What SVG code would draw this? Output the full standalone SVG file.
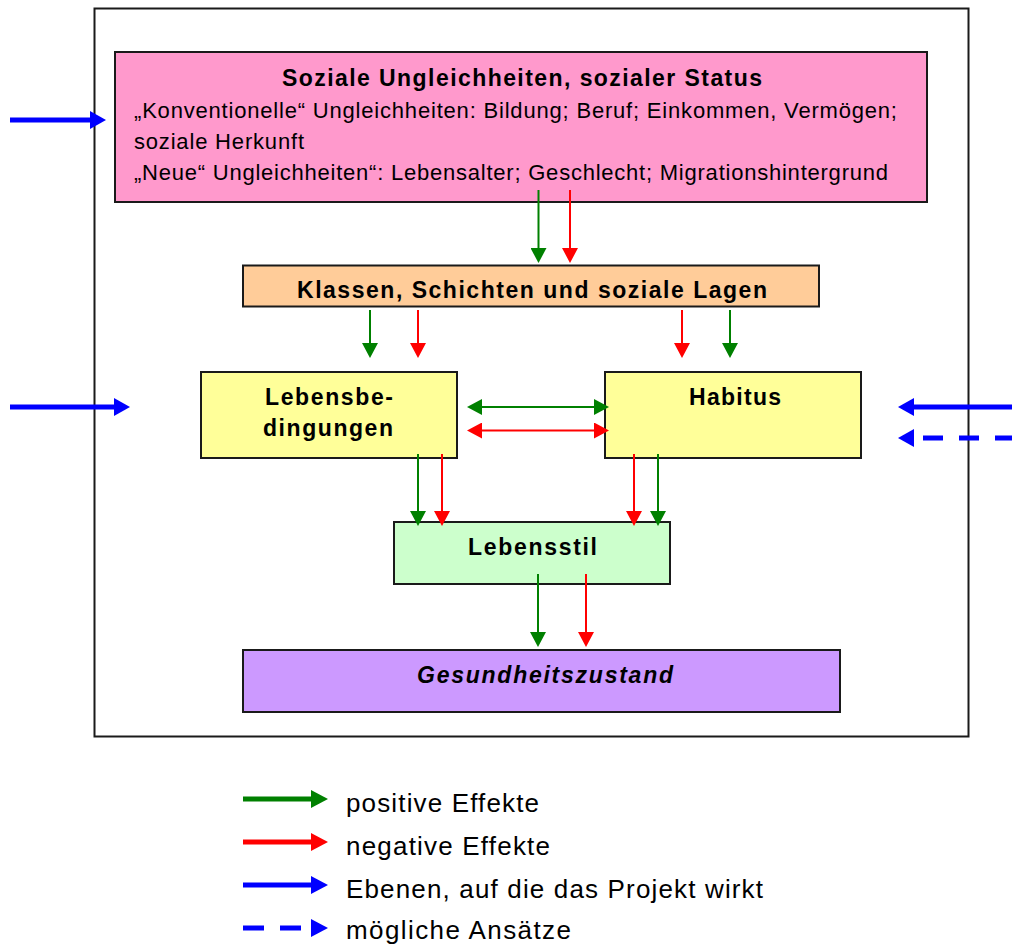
<svg xmlns="http://www.w3.org/2000/svg" width="1012" height="944" viewBox="0 0 1012 944">
<style>
.box{stroke:#1a1a1a;stroke-width:2}
.t{font-family:"Liberation Sans",Arial,sans-serif;fill:#000}
.b{font-weight:bold;font-size:23px}
.n{font-size:22px}
.lg{font-size:26px}
.g{stroke:#008000;stroke-width:2;fill:none}
.r{stroke:#FF0000;stroke-width:2;fill:none}
.bl{stroke:#0000FF;stroke-width:5;fill:none}
.lgg{stroke:#008000;stroke-width:5;fill:none}
.lgr{stroke:#FF0000;stroke-width:5;fill:none}
</style>
<defs>
<marker id="hg" markerUnits="userSpaceOnUse" markerWidth="15" markerHeight="16" refX="0" refY="8" orient="auto-start-reverse"><path d="M0,0 L15,8 L0,16 z" fill="#008000"/></marker>
<marker id="hr" markerUnits="userSpaceOnUse" markerWidth="15" markerHeight="16" refX="0" refY="8" orient="auto-start-reverse"><path d="M0,0 L15,8 L0,16 z" fill="#FF0000"/></marker>
<marker id="hb" markerUnits="userSpaceOnUse" markerWidth="16" markerHeight="18" refX="0" refY="9" orient="auto"><path d="M0,0 L16,9 L0,18 z" fill="#0000FF"/></marker>
<marker id="lgG" markerUnits="userSpaceOnUse" markerWidth="17" markerHeight="18" refX="0" refY="9" orient="auto"><path d="M0,0 L17,9 L0,18 z" fill="#008000"/></marker>
<marker id="lgR" markerUnits="userSpaceOnUse" markerWidth="17" markerHeight="18" refX="0" refY="9" orient="auto"><path d="M0,0 L17,9 L0,18 z" fill="#FF0000"/></marker>
<marker id="lgB" markerUnits="userSpaceOnUse" markerWidth="17" markerHeight="18" refX="0" refY="9" orient="auto"><path d="M0,0 L17,9 L0,18 z" fill="#0000FF"/></marker>
</defs>
<rect width="1012" height="944" fill="#fff"/>
<g id="frame"><rect x="94.5" y="8.5" width="874" height="728" fill="none" stroke="#1a1a1a" stroke-width="2"/></g>

<g id="status">
<rect class="box" x="115" y="52" width="812" height="150" fill="#FF99CC"/>
<text class="t b" x="282" y="86" textLength="480" lengthAdjust="spacing">Soziale Ungleichheiten, sozialer Status</text>
<text class="t n" x="134" y="118" textLength="763" lengthAdjust="spacing">„Konventionelle“ Ungleichheiten: Bildung; Beruf; Einkommen, Vermögen;</text>
<text class="t n" x="134" y="149" textLength="170" lengthAdjust="spacing">soziale Herkunft</text>
<text class="t n" x="134" y="180" textLength="754" lengthAdjust="spacing">„Neue“ Ungleichheiten“: Lebensalter; Geschlecht; Migrationshintergrund</text>
</g>

<g id="klassen">
<rect class="box" x="243" y="265.5" width="576" height="41" fill="#FFCC99"/>
<text class="t b" x="297" y="298" textLength="470" lengthAdjust="spacing">Klassen, Schichten und soziale Lagen</text>
</g>

<g id="lebensbedingungen">
<rect class="box" x="201" y="372" width="256" height="86" fill="#FFFF99"/>
<text class="t b" x="265" y="405" textLength="128" lengthAdjust="spacing">Lebensbe-</text>
<text class="t b" x="263" y="436" textLength="130" lengthAdjust="spacing">dingungen</text>
</g>

<g id="habitus">
<rect class="box" x="605" y="372" width="256" height="86" fill="#FFFF99"/>
<text class="t b" x="689" y="405" textLength="92" lengthAdjust="spacing">Habitus</text>
</g>

<g id="lebensstil">
<rect class="box" x="394" y="522" width="276" height="62" fill="#CCFFCC"/>
<text class="t b" x="468" y="555" textLength="129" lengthAdjust="spacing">Lebensstil</text>
</g>

<g id="gesundheit">
<rect class="box" x="243" y="650" width="597" height="62" fill="#CC99FF"/>
<text class="t b" x="417" y="683" font-style="italic" textLength="256" lengthAdjust="spacing">Gesundheitszustand</text>
</g>

<g id="connectors">
<line class="g" x1="538.5" y1="190" x2="538.5" y2="248" marker-end="url(#hg)"/>
<line class="r" x1="570" y1="190" x2="570" y2="248" marker-end="url(#hr)"/>
<line class="g" x1="370" y1="310" x2="370" y2="343" marker-end="url(#hg)"/>
<line class="r" x1="418" y1="310" x2="418" y2="343" marker-end="url(#hr)"/>
<line class="r" x1="682" y1="310" x2="682" y2="343" marker-end="url(#hr)"/>
<line class="g" x1="730" y1="310" x2="730" y2="343" marker-end="url(#hg)"/>
<line class="g" x1="482" y1="407" x2="594" y2="407" marker-start="url(#hg)" marker-end="url(#hg)"/>
<line class="r" x1="482" y1="430.5" x2="594" y2="430.5" marker-start="url(#hr)" marker-end="url(#hr)"/>
<line class="g" x1="418" y1="454" x2="418" y2="511" marker-end="url(#hg)"/>
<line class="r" x1="442" y1="454" x2="442" y2="511" marker-end="url(#hr)"/>
<line class="r" x1="634" y1="454" x2="634" y2="511" marker-end="url(#hr)"/>
<line class="g" x1="658" y1="454" x2="658" y2="511" marker-end="url(#hg)"/>
<line class="g" x1="538" y1="574" x2="538" y2="632" marker-end="url(#hg)"/>
<line class="r" x1="586" y1="574" x2="586" y2="632" marker-end="url(#hr)"/>
<line class="bl" x1="10" y1="120" x2="90" y2="120" marker-end="url(#hb)"/>
<line class="bl" x1="10" y1="407" x2="114" y2="407" marker-end="url(#hb)"/>
<line class="bl" x1="1012" y1="407" x2="914" y2="407" marker-end="url(#hb)"/>
<line class="bl" x1="1015" y1="438" x2="914" y2="438" stroke-dasharray="20 16" marker-end="url(#hb)"/>
</g>

<g id="legend">
<line class="lgg" x1="243" y1="799" x2="311" y2="799" marker-end="url(#lgG)"/>
<text class="t lg" x="346" y="812" textLength="193" lengthAdjust="spacing">positive Effekte</text>
<line class="lgr" x1="243" y1="842" x2="311" y2="842" marker-end="url(#lgR)"/>
<text class="t lg" x="346" y="855" textLength="204" lengthAdjust="spacing">negative Effekte</text>
<line class="bl" x1="243" y1="885" x2="311" y2="885" marker-end="url(#lgB)"/>
<text class="t lg" x="346" y="898" textLength="417" lengthAdjust="spacing">Ebenen, auf die das Projekt wirkt</text>
<line class="bl" x1="243" y1="928" x2="311" y2="928" stroke-dasharray="21 16" marker-end="url(#lgB)"/>
<text class="t lg" x="346" y="939" textLength="225" lengthAdjust="spacing">mögliche Ansätze</text>
</g>
</svg>
